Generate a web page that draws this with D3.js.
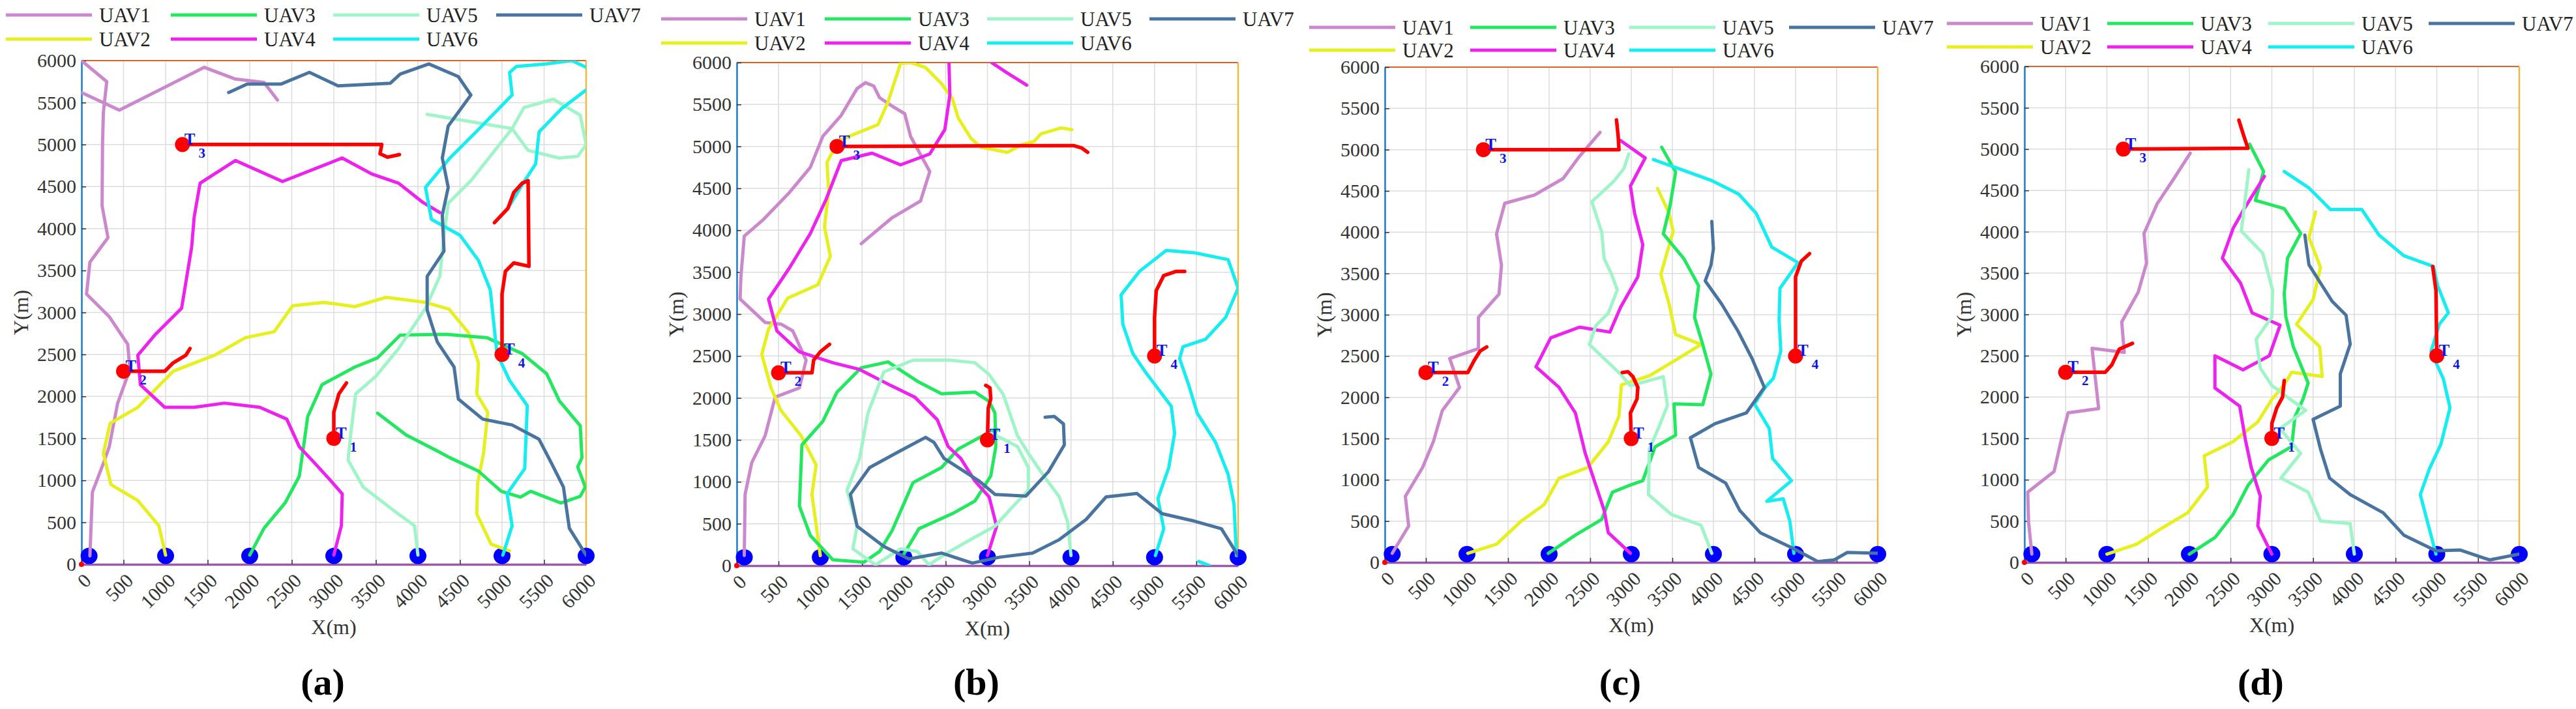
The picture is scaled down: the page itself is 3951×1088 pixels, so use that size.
<!DOCTYPE html>
<html><head><meta charset="utf-8">
<script src="https://cdn.jsdelivr.net/npm/d3@7"></script>
<style>html,body{margin:0;padding:0;background:#fff;}svg{display:block;}</style>
</head><body>
<svg id="chart" width="3951" height="1088"></svg>
<script>
// ---------------- DATA ----------------
const uavNames = ["UAV1","UAV2","UAV3","UAV4","UAV5","UAV6","UAV7"];
const panelLabels = ["(a)","(b)","(c)","(d)"];
const axisTicks = [0,500,1000,1500,2000,2500,3000,3500,4000,4500,5000,5500,6000];
const targetPoints = [[3000,1500],[500,2300],[1200,5000],[5000,2500]];
const targetIndex = ["1","2","3","4"];
const baseStations = [[90,100],[1000,100],[2000,100],[3000,100],[4000,100],[5000,100],[6000,100]];

// panel (a)
const a_UAV1 = [[100,100],[130,860],[270,1230],[330,1400],[430,1920],[575,2320],[550,2620],[330,2950],[60,3220],[100,3600],[315,3890],[245,4270],[250,5000],[260,5380],[300,5750],[0,6000],null,[0,5620],[450,5410],[1460,5920],[1830,5780],[2170,5740],[2330,5530]];
const a_UAV2 = [[1000,110],[920,460],[670,760],[350,950],[260,1320],[340,1680],[670,1870],[1090,2300],[1580,2490],[1950,2700],[2290,2770],[2510,3080],[2880,3120],[3250,3070],[3620,3180],[4090,3120],[4370,3040],[4600,2760],[4720,2400],[4700,2030],[4830,1810],[4780,1320],[4710,970],[4700,600],[4870,240],[5090,160]];
const a_UAV3 = [[2000,110],[2170,430],[2420,730],[2590,1050],[2690,1760],[2860,2140],[3250,2350],[3520,2460],[3790,2730],[4330,2740],[4820,2700],[5240,2510],[5530,2270],[5680,1950],[5930,1650],[5950,1270],[5900,1160],[5990,920],[5930,810],[5700,730],[5340,870],[5220,800],[4990,870],[4720,1110],[4380,1270],[4230,1350],[3860,1540],[3520,1800]];
const a_UAV4 = [[3000,110],[3090,460],[3100,840],[2960,1000],[2760,1220],[2590,1400],[2440,1730],[2120,1870],[1700,1920],[1340,1870],[990,1870],[700,2140],[670,2490],[870,2730],[1190,3050],[1310,3780],[1340,4140],[1410,4540],[1830,4810],[2390,4560],[3100,4840],[3450,4650],[3770,4540],[4060,4310],[4260,4190]];
const a_UAV5 = [[4000,110],[3960,460],[3740,620],[3350,920],[3170,1240],[3200,1540],[3260,2030],[3500,2240],[3770,2570],[4090,3050],[4260,3430],[4310,3920],[4360,4300],[4630,4570],[5120,5190],[5260,5440],[5610,5540],[5930,5350],[6000,5000],[5900,4860],[5680,4840],[5310,4930],[5120,5190],[4110,5360]];
const a_UAV6 = [[5010,110],[5120,460],[5060,840],[5270,1140],[5300,1890],[5090,2190],[4940,2510],[4860,3270],[4720,3620],[4500,3920],[4160,4110],[4090,4490],[4380,4840],[4700,5160],[5120,5590],[5090,5860],[5170,5930],[5510,5960],[5830,6000],[6000,5920],null,[6000,5650],[5710,5430],[5440,5150],[5400,4770],[5250,4540],[5070,4240]];
const a_UAV7 = [[6000,110],[5800,430],[5730,920],[5580,1220],[5440,1490],[5120,1660],[4770,1730],[4480,1970],[4430,2350],[4230,2650],[4110,3030],[4110,3430],[4310,3730],[4290,4160],[4360,4490],[4290,4840],[4360,5220],[4630,5590],[4480,5810],[4130,5960],[3790,5840],[3670,5730],[3050,5700],[2710,5860],[2370,5720],[1970,5720],[1750,5620]];
const a_T1 = [[3000,1500],[3000,1810],[3060,2030],[3150,2160]];
const a_T2 = [[500,2300],[990,2300],[1090,2400],[1240,2490],[1290,2570]];
const a_T3 = [[1200,5000],[3570,5000],[3550,4890],[3640,4850],[3780,4880]];
const a_T4 = [[5000,2500],[5000,3220],[5040,3490],[5140,3590],[5320,3550],[5310,4570],[5240,4540],[5140,4430],[5070,4240],[4910,4070]];

// panel (b)
const b_UAV1 = [[90,120],[100,850],[180,1230],[340,1550],[460,2010],[750,2120],[830,2450],[670,2800],[530,2880],[340,2900],[40,3180],[50,3450],[90,3930],[310,4120],[630,4450],[880,4750],[1030,5120],[1250,5370],[1440,5690],[1540,5760],[1640,5720],[1710,5580],[1860,5480],[2010,5390],[2080,5120],[2310,4700],[2200,4350],[1860,4150],[1490,3840]];
const b_UAV2 = [[1000,120],[900,850],[950,1200],[770,1550],[530,1850],[410,2120],[300,2520],[380,2820],[610,3190],[970,3350],[1120,3690],[1050,4040],[1100,4470],[1080,4810],[1220,5070],[1690,5260],[1810,5530],[1960,5990],[2080,6000],[2260,5940],[2450,5750],[2580,5570],[2650,5340],[2800,5100],[2920,4990],[3240,4930],[3410,5020],[3560,5060],[3640,5150],[3880,5220],[4010,5200]];
const b_UAV3 = [[1990,120],[2180,440],[2600,630],[2850,770],[3040,1070],[3100,1420],[3090,1820],[3020,1960],[2850,2070],[2450,2050],[2160,2200],[1810,2430],[1490,2360],[1200,2070],[1030,1720],[780,1440],[750,710],[880,360],[1150,70],[1520,40],[1710,170],[1860,420],[2110,990],[2450,1170],[2650,1390],[3000,1580],[3120,1620]];
const b_UAV4 = [[3000,120],[3110,470],[3020,820],[2850,1010],[2680,1280],[2530,1420],[2400,1740],[2130,2010],[1840,2150],[1470,2340],[1150,2420],[750,2550],[480,2800],[380,3180],[630,3550],[880,3960],[1070,4370],[1250,4830],[1620,4920],[1960,4780],[2310,4910],[2490,5200],[2550,5610],[2540,6000],null,[3050,6000],[3230,5880],[3470,5730]];
const b_UAV5 = [[4000,120],[3960,520],[3860,820],[3660,1090],[3490,1340],[3360,1550],[3190,2040],[3020,2280],[2850,2420],[2550,2450],[2110,2450],[1760,2310],[1570,1820],[1470,1280],[1320,900],[1440,470],[1390,200],[1660,10],[1960,200],[2160,170],[2300,10],[2550,170],[2850,340],[3090,470],[3290,690],[3490,900],[3490,1170],[3360,1420],[3190,1510],[3040,1580]];
const b_UAV6 = [[5010,120],[5110,440],[5040,800],[5170,1170],[5240,1580],[5200,1900],[4890,2310],[4740,2530],[4620,2880],[4600,3230],[4820,3510],[5140,3760],[5480,3730],[5880,3650],[6000,3310],[5850,2960],[5610,2700],[5340,2610],[5300,2470],[5410,2150],[5510,1820],[5730,1470],[5880,1090],[5950,740],[5980,120],null,[5530,50],[5660,0]];
const b_UAV7 = [[6000,120],[5800,440],[5480,530],[5090,620],[4790,860],[4420,820],[4180,550],[3860,310],[3540,150],[3140,100],[2820,30],[2450,150],[2060,80],[1760,230],[1440,470],[1360,850],[1590,1170],[1940,1360],[2260,1530],[2360,1470],[2480,1280],[2650,1170],[2900,1010],[3090,850],[3460,830],[3730,1120],[3920,1440],[3910,1690],[3800,1780],[3690,1770]];
const b_T1 = [[3000,1500],[3010,1880],[3040,1990],[3030,2120],[2980,2150]];
const b_T2 = [[500,2300],[900,2300],[920,2450],[1000,2550],[1110,2640]];
const b_T3 = [[1200,5000],[4030,5010],[4130,4980],[4200,4930]];
const b_T4 = [[5000,2500],[5000,2960],[5020,3280],[5110,3460],[5260,3510],[5360,3510]];

// panel (c)
const c_UAV1 = [[90,110],[290,440],[250,800],[460,1150],[590,1460],[700,1840],[910,2120],[790,2470],[1140,2590],[1140,2970],[1390,3250],[1420,3600],[1360,3980],[1460,4350],[1820,4450],[2170,4650],[2370,4920],[2620,5210]];
const c_UAV2 = [[1010,110],[1360,220],[1660,500],[1940,700],[2120,1020],[2470,1150],[2720,1460],[2850,1770],[2880,2150],[3220,2260],[3490,2420],[3850,2640],[3540,2760],[3460,3130],[3360,3490],[3510,4010],[3460,4230],[3320,4530]];
const c_UAV3 = [[1990,110],[2320,330],[2640,520],[2770,850],[2970,930],[3140,990],[3290,1400],[3540,1540],[3520,1920],[3870,1910],[3970,2280],[3870,2640],[3770,2970],[3820,3350],[3640,3680],[3390,3980],[3470,4310],[3540,4730],[3370,5030]];
const c_UAV4 = [[2990,110],[2720,360],[2670,630],[2570,930],[2440,1320],[2320,1810],[2120,2120],[1840,2370],[2020,2720],[2370,2850],[2740,2790],[2870,3090],[3080,3460],[3140,3850],[3040,4230],[2990,4560],[3170,4900],[2870,5110]];
const c_UAV5 = [[3980,110],[3850,450],[3490,580],[3210,820],[3220,1370],[3340,1650],[3440,1900],[3390,2250],[2990,2140],[2870,2280],[2490,2640],[2570,2870],[2720,3020],[2830,3300],[2760,3490],[2670,3680],[2640,4000],[2520,4370],[2790,4620],[2910,4770],[2970,4950]];
const c_UAV6 = [[4980,110],[4930,500],[4850,770],[4650,740],[4950,990],[4720,1260],[4680,1620],[4500,1920],[4630,2120],[4730,2230],[4820,2560],[4800,2940],[4810,3320],[5030,3630],[4710,3820],[4520,4230],[4310,4460],[3970,4630],[3270,4880]];
const c_UAV7 = [[6000,110],[5630,120],[5470,30],[5270,10],[4970,170],[4570,360],[4320,630],[4150,960],[3820,1150],[3720,1510],[4020,1680],[4400,1810],[4620,2120],[4470,2470],[4300,2800],[4100,3130],[3900,3410],[3970,3600],[4000,3800],[3980,4130]];
const c_T1 = [[3000,1500],[2990,1810],[3070,1980],[3080,2120],[3020,2250],[2960,2310],[2890,2300]];
const c_T2 = [[500,2300],[1010,2300],[1090,2450],[1160,2560],[1240,2610]];
const c_T3 = [[1200,5000],[2850,5000],[2840,5170],[2820,5360]];
const c_T4 = [[5000,2500],[5000,3460],[5070,3650],[5170,3740]];

// panel (d)
const d_UAV1 = [[90,100],[50,490],[40,850],[360,1100],[460,1540],[530,1810],[900,1860],[820,2590],[1210,2540],[1180,2910],[1380,3270],[1480,3620],[1450,3980],[1610,4340],[1810,4640],[2010,4950]];
const d_UAV2 = [[1000,100],[1360,220],[1660,410],[1980,600],[2220,910],[2180,1290],[2530,1460],[2830,1700],[3000,1970],[3150,2150],[3240,2300],[3610,2250],[3580,2610],[3300,2880],[3500,3180],[3590,3570],[3450,3930],[3530,4240]];
const d_UAV3 = [[2000,100],[2310,300],[2530,580],[2710,930],[2960,1240],[3240,1400],[3280,1760],[3380,1980],[3440,2170],[3260,2610],[3170,2970],[3150,3250],[3190,3680],[3350,3980],[3150,4280],[2800,4380],[2900,4730],[2730,5060]];
const d_UAV4 = [[3000,100],[2830,440],[2860,800],[2750,1150],[2680,1480],[2610,1890],[2310,2110],[2310,2500],[2650,2330],[2970,2500],[3100,2870],[2760,3020],[2620,3380],[2400,3680],[2530,4040],[2660,4270],[2910,4670]];
const d_UAV5 = [[4000,100],[3950,470],[3590,500],[3440,850],[3110,1020],[3350,1320],[3230,1460],[3100,1620],[3410,1840],[3200,1990],[3000,2140],[2860,2350],[2810,2700],[3000,2970],[3010,3290],[2890,3740],[2630,4010],[2720,4750]];
const d_UAV6 = [[4990,100],[4900,440],[4800,820],[4910,1130],[5050,1430],[5160,1870],[5080,2220],[4930,2550],[5030,2880],[5140,3020],[5010,3350],[4960,3580],[4600,3710],[4300,3960],[4090,4270],[3710,4270],[3450,4530],[3150,4730]];
const d_UAV7 = [[6000,100],[5640,30],[5280,150],[4990,140],[4600,330],[4350,600],[3950,820],[3700,1020],[3590,1370],[3500,1730],[3830,1890],[3830,2280],[3950,2640],[3900,2990],[3730,3160],[3450,3600],[3400,3960]];
const d_T1 = [[3000,1500],[3000,1680],[3060,1870],[3130,2000],[3150,2200]];
const d_T2 = [[500,2300],[980,2300],[1060,2390],[1150,2580],[1310,2650]];
const d_T3 = [[1200,5000],[2710,5010],[2660,5160],[2600,5350]];
const d_T4 = [[5000,2500],[4990,3290],[4950,3580]];

const panelUAVs = [
  [a_UAV1,a_UAV2,a_UAV3,a_UAV4,a_UAV5,a_UAV6,a_UAV7],
  [b_UAV1,b_UAV2,b_UAV3,b_UAV4,b_UAV5,b_UAV6,b_UAV7],
  [c_UAV1,c_UAV2,c_UAV3,c_UAV4,c_UAV5,c_UAV6,c_UAV7],
  [d_UAV1,d_UAV2,d_UAV3,d_UAV4,d_UAV5,d_UAV6,d_UAV7]
];
const panelTargets = [
  [a_T1,a_T2,a_T3,a_T4],[b_T1,b_T2,b_T3,b_T4],[c_T1,c_T2,c_T3,c_T4],[d_T1,d_T2,d_T3,d_T4]
];

// ---------------- STYLE / LAYOUT ----------------
const uavColors = ["#CC88CC","#E6F01E","#22E860","#EE22EE","#A0F5C8","#14EEF0","#4A74A0"];
const layout = [
  {x0:125, x1:899, y0:93, y1:866, legY:[23,60], legX:[9,262,511,761]},
  {x0:1130,x1:1899,y0:96, y1:868, legY:[29,66], legX:[1014,1265,1514,1763]},
  {x0:2124,x1:2880,y0:103,y1:863, legY:[42,77], legX:[2008,2255,2499,2744]},
  {x0:3105,x1:3864,y0:102,y1:863, legY:[36,72], legX:[2986,3232,3479,3725]}
];
const FONT = "'Liberation Serif','Times New Roman',serif";

const svg = d3.select("#chart");
svg.append("rect").attr("width",3951).attr("height",1088).attr("fill","#fff");

layout.forEach((L, p) => {
  const g = svg.append("g");
  const x = d3.scaleLinear().domain([0,6000]).range([L.x0, L.x1]);
  const y = d3.scaleLinear().domain([0,6000]).range([L.y1, L.y0]);

  const cid = "clip" + p;
  svg.append("defs").append("clipPath").attr("id", cid)
    .append("rect").attr("x", L.x0).attr("y", L.y0)
    .attr("width", L.x1 - L.x0).attr("height", L.y1 - L.y0);

  // grid
  const grid = g.append("g");
  grid.selectAll("line.v").data(axisTicks.slice(1,-1)).join("line")
    .attr("x1", d => x(d)).attr("x2", d => x(d)).attr("y1", L.y0).attr("y2", L.y1)
    .attr("stroke", "#dcdcdc").attr("stroke-width", 1.5);
  grid.selectAll("line.h").data(axisTicks.slice(1,-1)).join("line")
    .attr("y1", d => y(d)).attr("y2", d => y(d)).attr("x1", L.x0).attr("x2", L.x1)
    .attr("stroke", "#dcdcdc").attr("stroke-width", 1.5);

  // top & right borders
  g.append("line").attr("x1", L.x0).attr("x2", L.x1).attr("y1", L.y0).attr("y2", L.y0)
    .attr("stroke", "#E0602A").attr("stroke-width", 2);
  g.append("line").attr("x1", L.x1).attr("x2", L.x1).attr("y1", L.y0).attr("y2", L.y1)
    .attr("stroke", "#F0B840").attr("stroke-width", 2.5);

  // axes
  const fmt = d3.format("d");
  const yAxis = d3.axisLeft(y).tickValues(axisTicks).tickFormat(fmt).tickSizeInner(-7).tickSizeOuter(0).tickPadding(8);
  const ya = g.append("g").attr("transform", `translate(${L.x0},0)`).call(yAxis);
  ya.select(".domain").attr("stroke", "#1A7DC8").attr("stroke-width", 2.5);
  ya.selectAll(".tick line").attr("stroke", "#333").attr("stroke-width", 1.5);
  ya.selectAll(".tick text").attr("font-family", FONT).attr("font-size", 30).attr("fill", "#333");

  const xAxis = d3.axisBottom(x).tickValues(axisTicks).tickFormat(fmt).tickSizeInner(-7).tickSizeOuter(0);
  const xa = g.append("g").attr("transform", `translate(0,${L.y1})`).call(xAxis);
  xa.select(".domain").attr("stroke", "#9A5AAA").attr("stroke-width", 3.5);
  xa.selectAll(".tick line").attr("stroke", "#333").attr("stroke-width", 1.5);
  xa.selectAll(".tick text").attr("font-family", FONT).attr("font-size", 30).attr("fill", "#333")
    .attr("x", 0).attr("y", 0).attr("dy", null).attr("text-anchor", "end")
    .attr("transform", "translate(16,27) rotate(-45)");

  // base stations
  g.append("g").selectAll("ellipse").data(baseStations).join("ellipse")
    .attr("cx", d => x(d[0])).attr("cy", d => y(d[1])).attr("rx", 13).attr("ry", 12.5)
    .attr("fill", "#0000FF");

  // trajectories
  const line = d3.line().defined(d => d != null).x(d => x(d[0])).y(d => y(d[1]));
  const tg = g.append("g").attr("clip-path", `url(#${cid})`);
  panelUAVs[p].forEach((pts, i) => {
    tg.append("path").attr("d", line(pts)).attr("fill", "none")
      .attr("stroke", uavColors[i]).attr("stroke-width", 5)
      .attr("stroke-linejoin", "round").attr("stroke-linecap", "round");
  });
  panelTargets[p].forEach(pts => {
    tg.append("path").attr("d", line(pts)).attr("fill", "none")
      .attr("stroke", "#FF0000").attr("stroke-width", 5.5)
      .attr("stroke-linejoin", "round").attr("stroke-linecap", "round");
  });
  g.append("g").selectAll("circle").data(targetPoints).join("circle")
    .attr("cx", d => x(d[0])).attr("cy", d => y(d[1])).attr("r", 11.5).attr("fill", "#FF0000");
  targetPoints.forEach((t, k) => {
    const tx = g.append("text").attr("x", x(t[0]) + 3).attr("y", y(t[1]))
      .attr("font-family", FONT).attr("font-weight", "bold").attr("font-size", 25).attr("fill", "#0A14E6");
    tx.append("tspan").text("T");
    tx.append("tspan").attr("font-size", 21).attr("dy", 20).attr("dx", 5).text(targetIndex[k]);
  });
  g.append("circle").attr("cx", x(0)).attr("cy", y(0)).attr("r", 4).attr("fill", "#FF0000");

  // axis titles
  g.append("text").attr("x", (L.x0 + L.x1) / 2).attr("y", L.y1 + 107)
    .attr("text-anchor", "middle").attr("font-family", FONT).attr("font-size", 32).attr("fill", "#333")
    .text("X(m)");
  g.append("text").attr("transform", `translate(${L.x0 - 93},${(L.y0 + L.y1) / 2}) rotate(-90)`)
    .attr("text-anchor", "middle").attr("dy", "0.35em")
    .attr("font-family", FONT).attr("font-size", 32).attr("fill", "#333").text("Y(m)");
  g.append("text").attr("x", (L.x0 + L.x1) / 2 - 17).attr("y", 1066)
    .attr("text-anchor", "middle").attr("font-family", FONT).attr("font-weight", "bold")
    .attr("font-size", 58).attr("fill", "#000").text(panelLabels[p]);

  // legend
  const lg = g.append("g");
  uavNames.forEach((name, i) => {
    const col = Math.floor(i / 2), row = i % 2;
    const lx = L.legX[col], ly = L.legY[row];
    lg.append("line").attr("x1", lx).attr("x2", lx + 132).attr("y1", ly).attr("y2", ly)
      .attr("stroke", uavColors[i]).attr("stroke-width", 5);
    lg.append("text").attr("x", lx + 143).attr("y", ly + 11)
      .attr("font-family", FONT).attr("font-size", 31).attr("fill", "#222").text(name);
  });
});
</script>
</body></html>
